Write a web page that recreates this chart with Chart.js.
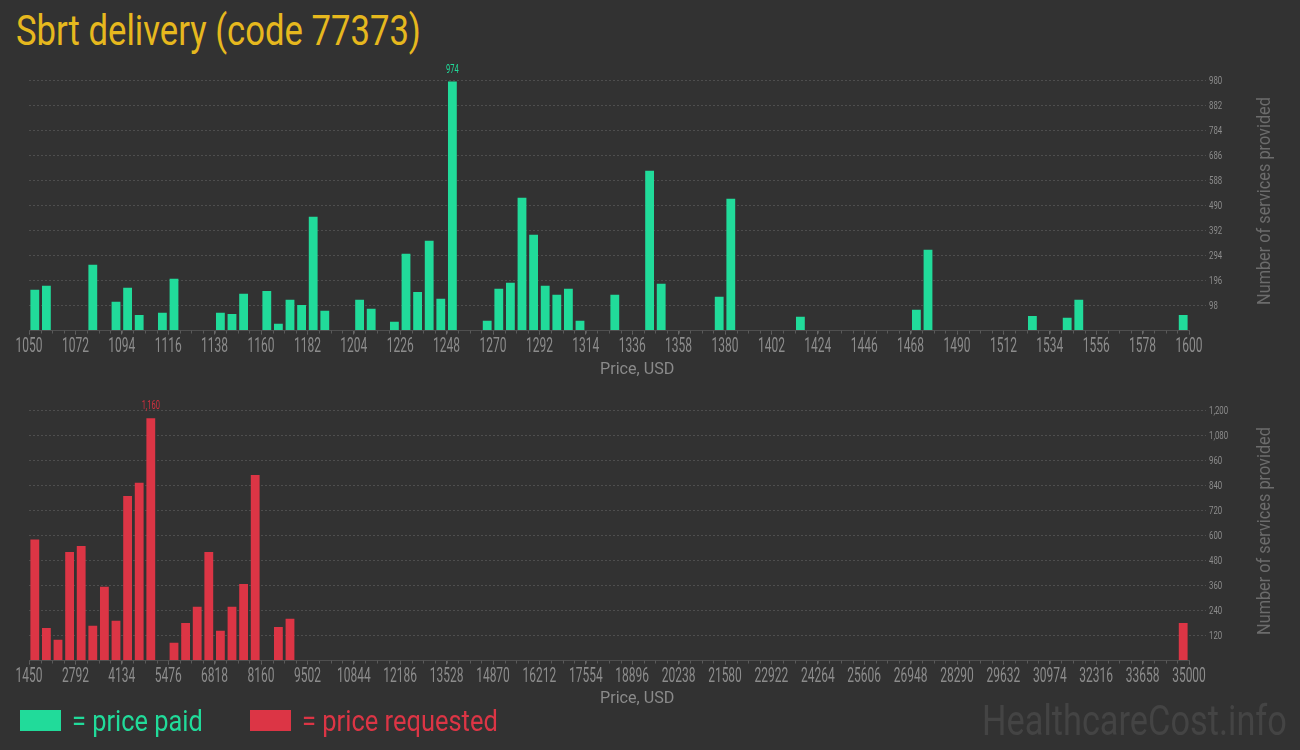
<!DOCTYPE html>
<html>
<head>
<meta charset="utf-8">
<script src="https://cdn.jsdelivr.net/npm/chart.js@4.4.1/dist/chart.umd.min.js"></script>
<style>
html,body{margin:0;padding:0;background:#323232;width:1300px;height:750px;overflow:hidden;position:relative;}
.txt{position:absolute;white-space:nowrap;font-family:Roboto,sans-serif;line-height:1;}
#title{left:16px;top:10px;font-size:42px;color:#e6b81e;transform-origin:0 0;}
.cv{position:absolute;left:0;width:1300px;height:330px;}
#c1{top:50px;}
#c2{top:380px;}
.ytitle{font-size:18px;color:#6c6c6c;transform-origin:50% 50%;}
.xtitle{font-size:17px;color:#8a8a8a;transform-origin:50% 50%;}
.sq{position:absolute;width:41px;height:21px;top:710px;}
.leg{font-size:30px;top:706px;transform-origin:0 0;}
#wm{font-size:42px;color:#444444;top:700px;left:982px;transform-origin:0 0;}
</style>
</head>
<body>
<div id="title" class="txt">Sbrt delivery (code 77373)</div>
<canvas id="c1" class="cv" width="1300" height="330"></canvas>
<canvas id="c2" class="cv" width="1300" height="330"></canvas>
<div id="yt1" class="txt ytitle">Number of services provided</div>
<div id="yt2" class="txt ytitle">Number of services provided</div>
<div id="xt1" class="txt xtitle">Price, USD</div>
<div id="xt2" class="txt xtitle">Price, USD</div>
<div class="sq" style="left:20px;background:#21db9a;"></div>
<div id="lg1" class="txt leg" style="left:72px;color:#21db9a;">= price paid</div>
<div class="sq" style="left:250px;background:#dc3545;"></div>
<div id="lg2" class="txt leg" style="left:302px;color:#dc3545;">= price requested</div>
<div id="wm" class="txt">HealthcareCost.info</div>
<script>
// ---------- DATA ----------
// Price paid histogram (bin centres, USD) and number of services
const paidBinWidth = 5.5;
const paidMin = 1050, paidMax = 1600, paidTickStep = 22;
const paidPrices = [1052.75,1058.25,1080.25,1091.25,1096.75,1102.25,1113.25,1118.75,1140.75,1146.25,
  1151.75,1162.75,1168.25,1173.75,1179.25,1184.75,1190.25,1206.75,1212.25,1223.25,
  1228.75,1234.25,1239.75,1245.25,1250.75,1267.25,1272.75,1278.25,1283.75,1289.25,
  1294.75,1300.25,1305.75,1311.25,1327.75,1344.25,1349.75,1377.25,1382.75,1415.75,
  1470.75,1476.25,1525.75,1542.25,1547.75,1597.25];
const paidCounts = [159,175,257,112,167,61,69,202,69,65,
  144,155,26,120,100,445,77,120,85,34,
  300,151,351,124,974,38,163,187,519,375,
  175,140,163,38,140,625,183,132,515,54,
  81,316,57,50,120,61];
const paidYMax = 980, paidYStep = 98;

// Price requested histogram (bin centres, USD) and number of services
const reqBinWidth = 335.5;
const reqMin = 1450, reqMax = 35000, reqTickStep = 1342;
const reqPrices = [1617.75,1953.25,2288.75,2624.25,2959.75,3295.25,3630.75,3966.25,4301.75,4637.25,
  4972.75,5643.75,5979.25,6314.75,6650.25,6985.75,7321.25,7656.75,7992.25,8663.25,
  8998.75,34832.25];
const reqCounts = [580,156,99,520,549,166,353,190,788,851,
  1160,85,180,257,520,142,257,367,889,161,
  200,180];
const reqYMax = 1200, reqYStep = 120;

const GREEN = '#21db9a', RED = '#dc3545';
const GRID = '#4e4e4e';

// draw condensed text (the reference uses a very narrow face)
function narrowText(ctx, text, x, y, size, sx, align) {
  ctx.save();
  ctx.translate(x, y);
  ctx.scale(sx, 1);
  ctx.font = size + 'px Roboto, sans-serif';
  ctx.textAlign = align;
  ctx.textBaseline = 'alphabetic';
  ctx.fillText(text, 0, 0);
  ctx.restore();
}

// ---------- PLUGIN: minor bin ticks, axis labels, max value label ----------
const extras = {
  id: 'extras',
  afterDatasetsDraw(chart, args, o) {
    const {ctx, chartArea} = chart;
    const xs = chart.scales.x, ys = chart.scales.y;
    ctx.save();
    // minor ticks at every bin edge
    ctx.strokeStyle = '#5a5a5a';
    ctx.lineWidth = 1;
    for (let v = o.min; v <= o.max + 1e-6; v += o.step) {
      const px = Math.round(xs.getPixelForValue(v)) + 0.5;
      ctx.beginPath();
      ctx.moveTo(px, chartArea.bottom);
      ctx.lineTo(px, chartArea.bottom + 3);
      ctx.stroke();
    }
    // x tick labels
    ctx.fillStyle = '#8c8c8c';
    xs.ticks.forEach((t, i) => {
      narrowText(ctx, String(Math.round(t.value)), xs.getPixelForTick(i), chartArea.bottom + 21.5, 20, 0.6, 'center');
    });
    // y tick labels
    ys.ticks.forEach((t, i) => {
      if (t.value === 0) return;
      narrowText(ctx, t.value.toLocaleString('en-US'), chartArea.right + 20, ys.getPixelForTick(i) + 4, 11.5, 0.68, 'left');
    });
    // max value label
    const data = chart.data.datasets[0].data;
    let mi = 0;
    data.forEach((d, i) => { if (d.y > data[mi].y) mi = i; });
    const el = chart.getDatasetMeta(0).data[mi];
    ctx.fillStyle = o.color;
    narrowText(ctx, data[mi].y.toLocaleString('en-US'), el.x, el.y - 9, 12.5, 0.6, 'center');
    ctx.restore();
  }
};

function makeChart(id, prices, counts, color, labelColor, xmin, xmax, xstep, binW, ymax, ystep) {
  const pts = prices.map((p, i) => ({x: p, y: counts[i]}));
  return new Chart(document.getElementById(id), {
    type: 'bar',
    data: { datasets: [{ data: pts, backgroundColor: color, borderWidth: 0,
      barPercentage: 0.76, categoryPercentage: 1.0 }] },
    plugins: [extras],
    options: {
      responsive: false,
      animation: false,
      events: [],
      layout: { padding: { left: 29, top: 30, right: 0, bottom: 0 } },
      plugins: {
        legend: { display: false },
        tooltip: { enabled: false },
        extras: { min: xmin, max: xmax, step: binW, color: labelColor }
      },
      scales: {
        x: {
          type: 'linear', min: xmin, max: xmax, offset: false,
          afterFit: s => { s.height = 49.5; },
          ticks: { display: false, stepSize: xstep, autoSkip: false, maxRotation: 0 },
          grid: { display: true, drawOnChartArea: false, offset: false, tickLength: 4, tickColor: '#6a6a6a' },
          border: { display: true, color: '#4f4f4f', width: 1 }
        },
        y: {
          position: 'right', min: 0, max: ymax,
          afterFit: s => { s.width = 111; },
          ticks: { display: false, stepSize: ystep },
          grid: { color: c => c.tick && c.tick.value === 0 ? 'rgba(0,0,0,0)' : GRID,
            tickColor: c => c.tick && c.tick.value === 0 ? 'rgba(0,0,0,0)' : GRID,
            tickBorderDash: [2, 2], tickLength: 17, lineWidth: 1 },
          border: { display: false, dash: [2, 2] }
        }
      }
    }
  });
}

function fitLeft(id, target) {
  const el = document.getElementById(id);
  el.style.transform = 'scaleX(' + (target / el.offsetWidth) + ')';
}
function fitCenter(id, target, cx, cy, rot) {
  const el = document.getElementById(id);
  const w = el.offsetWidth, h = el.offsetHeight;
  el.style.left = (cx - w / 2) + 'px';
  el.style.top = (cy - h / 2) + 'px';
  el.style.transform = (rot ? 'rotate(-90deg) ' : '') + 'scaleX(' + (target / w) + ')';
}

function build() {
  makeChart('c1', paidPrices, paidCounts, GREEN, GREEN, paidMin, paidMax, paidTickStep, paidBinWidth, paidYMax, paidYStep);
  makeChart('c2', reqPrices, reqCounts, RED, '#d0303f', reqMin, reqMax, reqTickStep, reqBinWidth, reqYMax, reqYStep);
  fitLeft('title', 405);
  fitLeft('lg1', 131);
  fitLeft('lg2', 196);
  fitLeft('wm', 305);
  fitCenter('yt1', 208, 1264, 201, true);
  fitCenter('yt2', 208, 1264, 531, true);
  fitCenter('xt1', 74, 637, 368, false);
  fitCenter('xt2', 74, 637, 697, false);
}
if (document.fonts && document.fonts.load) {
  document.fonts.load("16px Roboto").then(build, build);
} else build();
</script>
</body>
</html>
